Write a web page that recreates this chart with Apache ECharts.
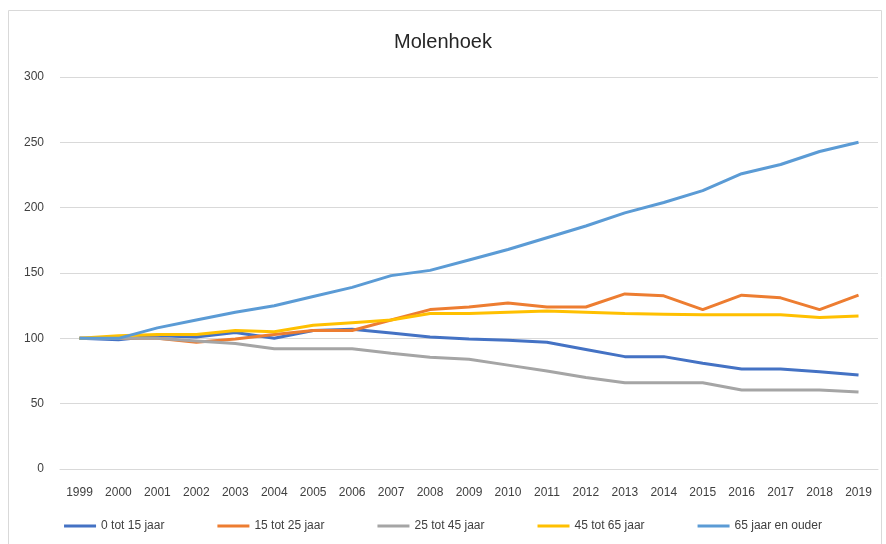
<!DOCTYPE html>
<html>
<head>
<meta charset="utf-8">
<script src="https://cdn.jsdelivr.net/npm/echarts@6/dist/echarts.min.js"></script>
<style>
    html, body { margin: 0; padding: 0; background: #fff; }
    #chart { width: 886px; height: 544px; }
</style>
</head>
<body>
<div id="chart"></div>
<script>
// years on the x axis
let years = ['1999', '2000', '2001', '2002', '2003', '2004', '2005', '2006', '2007', '2008', '2009',
    '2010', '2011', '2012', '2013', '2014', '2015', '2016', '2017', '2018', '2019'];

// index values (1999 = 100)
let age0to15 = [100, 99, 102, 101, 104.5, 100, 106, 107, 104, 101, 99.5, 98.5, 97, 91.5, 86, 86, 81, 76.5, 76.5, 74.5, 72];
let age15to25 = [100, 100, 100, 97, 99.5, 103, 106, 106, 114, 122, 124, 127, 124, 124, 134, 132.5, 122, 133, 131, 122, 133];
let age25to45 = [100, 100, 100, 98, 96, 92, 92, 92, 88.5, 85.5, 84, 79.5, 75, 70, 66, 66, 66, 60.5, 60.5, 60.5, 59];
let age45to65 = [100, 102, 103, 103, 106, 105, 110, 112, 114, 119, 119, 120, 121, 120, 119, 118.5, 118, 118, 118, 116, 117];
let age65plus = [100, 100, 108, 114, 120, 125, 132, 139, 148, 152, 160, 168, 177, 186, 196, 204, 213, 226, 233, 243, 250];

let seriesNames = ['0 tot 15 jaar', '15 tot 25 jaar', '25 tot 45 jaar', '45 tot 65 jaar', '65 jaar en ouder'];
let seriesData = [age0to15, age15to25, age25to45, age45to65, age65plus];
let seriesColors = ['#4472C4', '#ED7D31', '#A5A5A5', '#FFC000', '#5B9BD5'];

var molenhoekChart = echarts.init(document.getElementById('chart'));

let option = {
    animation: false,
    title: {
        text: 'Molenhoek',
        left: 'center',
        top: 27,
        textStyle: {
            fontFamily: 'Liberation Sans',
            fontSize: 20,
            fontWeight: 'normal',
            color: '#262626'
        }
    },
    graphic: [
        {
            type: 'rect',
            shape: {x: 8.5, y: 10.5, width: 873, height: 545},
            style: {fill: 'none', stroke: '#d9d9d9', lineWidth: 1}
        }
    ],
    legend: {
        data: seriesNames,
        bottom: 7,
        left: 'center',
        icon: 'rect',
        itemWidth: 32,
        itemHeight: 3,
        itemGap: 53,
        textStyle: {
            fontFamily: 'Liberation Sans',
            fontSize: 12,
            color: '#404040'
        }
    },
    grid: {
        left: 60,
        right: 8,
        top: 77,
        bottom: 75
    },
    xAxis: {
        type: 'category',
        data: years,
        boundaryGap: true,
        axisLine: {show: true, lineStyle: {color: '#d9d9d9'}},
        axisTick: {show: false},
        axisLabel: {
            interval: 0,
            margin: 18,
            fontFamily: 'Liberation Sans',
            fontSize: 12,
            color: '#404040'
        }
    },
    yAxis: {
        type: 'value',
        min: 0,
        max: 300,
        interval: 50,
        axisLine: {show: false},
        axisTick: {show: false},
        axisLabel: {
            margin: 16,
            fontFamily: 'Liberation Sans',
            fontSize: 12,
            color: '#404040'
        },
        splitLine: {lineStyle: {color: '#d9d9d9'}}
    },
    series: seriesNames.map((name, i) => ({
        name: name,
        type: 'line',
        data: seriesData[i],
        symbol: 'none',
        lineStyle: {width: 3, color: seriesColors[i]},
        itemStyle: {color: seriesColors[i]}
    }))
};

molenhoekChart.setOption(option);
</script>
</body>
</html>
